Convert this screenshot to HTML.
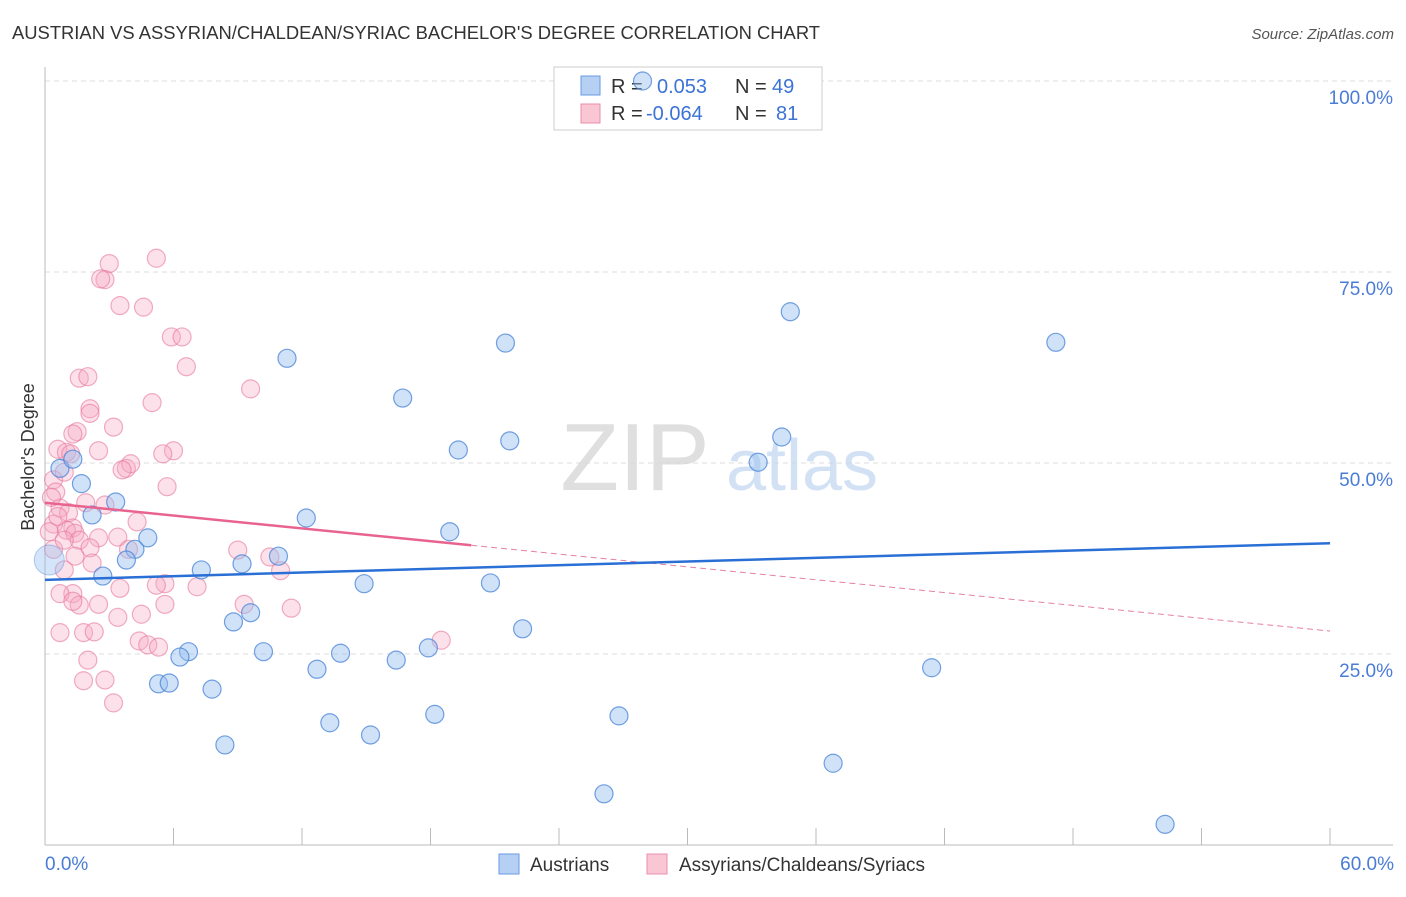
<!DOCTYPE html>
<html><head><meta charset="utf-8">
<style>
body{margin:0;background:#fff;font-family:"Liberation Sans",sans-serif;}
svg text{font-family:"Liberation Sans",sans-serif;}
</style></head>
<body>
<svg id="chart" width="1406" height="892">
<text x="12" y="39" font-size="18.4" fill="#333" textLength="808">AUSTRIAN VS ASSYRIAN/CHALDEAN/SYRIAC BACHELOR'S DEGREE CORRELATION CHART</text>
<text x="1394" y="39" font-size="15" fill="#555" text-anchor="end" font-style="italic">Source: ZipAtlas.com</text>
<g id="grid"></g>
<g>
<text x="635" y="490" font-size="96" fill="#d8d8d8" font-family="Liberation Serif" text-anchor="middle" opacity="0.8">ZIP</text>
<text x="802" y="490" font-size="72" fill="#c8daf2" text-anchor="middle" opacity="0.8">atlas</text>
</g>
<text transform="translate(34,457) rotate(-90)" font-size="18" fill="#333" text-anchor="middle">Bachelor's Degree</text>
<g>
<rect x="554" y="67" width="268" height="63" fill="#fff" stroke="#ccc"/>
<rect x="581" y="76" width="19" height="19" fill="#b6d0f3" stroke="#6a9ae0"/>
<rect x="581" y="104" width="19" height="19" fill="#f9c6d4" stroke="#ea8fad"/>
<text x="611" y="93" font-size="20" fill="#333">R = </text><text x="657" y="93" font-size="20" fill="#3b73d6">0.053</text>
<text x="735" y="93" font-size="20" fill="#333">N = </text><text x="772" y="93" font-size="20" fill="#3b73d6">49</text>
<text x="611" y="120" font-size="20" fill="#333">R = </text><text x="646" y="120" font-size="20" fill="#3b73d6">-0.064</text>
<text x="735" y="120" font-size="20" fill="#333">N = </text><text x="776" y="120" font-size="20" fill="#3b73d6">81</text>
</g>
<g>
<rect x="499" y="854" width="20" height="20" fill="#b6d0f3" stroke="#6a9ae0"/>
<text x="530" y="871" font-size="19" fill="#333">Austrians</text>
<rect x="647" y="854" width="20" height="20" fill="#f9c6d4" stroke="#ea8fad"/>
<text x="679" y="871" font-size="19" fill="#333">Assyrians/Chaldeans/Syriacs</text>
</g>
<g id="marks"></g>
</svg>
<script>
const xTicks=[0,6,12,18,24,30,36,42,48,54,60];
const yTicks=[25,50,75,100];
const yTickLabels=["25.0%","50.0%","75.0%","100.0%"];
const xLabels=["0.0%","60.0%"];
const blueX=[27.9,34.8,47.2,11.3,21.5,16.7,19.3,21.7,34.4,33.3,0.7,1.3,1.7,3.3,2.2,4.8,4.2,3.8,2.7,12.2,18.9,10.9,9.2,7.3,14.9,20.8,9.6,8.8,22.3,10.2,6.7,6.3,13.8,12.7,16.4,17.9,41.4,5.3,5.8,7.8,13.3,18.2,26.8,15.2,8.4,36.8,26.1,52.3];
const blueY=[100,69.8,65.8,63.7,65.7,58.5,51.7,52.9,53.4,50.1,49.3,50.5,47.3,44.9,43.2,40.2,38.7,37.3,35.2,42.8,41.0,37.8,36.8,36.0,34.2,34.3,30.4,29.2,28.3,25.3,25.3,24.6,25.1,23.0,24.2,25.8,23.2,21.1,21.2,20.4,16.0,17.1,16.9,14.4,13.1,10.7,6.7,2.7];
const pinkX=[3.0,5.2,2.8,2.6,3.5,4.6,5.9,6.4,6.6,1.6,2.0,9.6,5.0,2.1,2.1,3.2,1.5,1.3,6.0,5.5,2.5,0.6,1.0,1.2,3.8,4.0,3.6,5.7,0.4,0.5,0.9,1.9,2.8,0.7,1.1,4.3,0.4,0.2,1.3,1.0,1.4,1.6,3.4,2.5,2.1,0.4,0.9,1.4,0.9,2.2,3.9,9.0,10.5,11.0,7.1,5.6,5.2,3.5,1.3,0.7,1.6,1.3,2.5,4.5,5.6,9.3,11.5,3.4,4.4,0.7,1.8,2.3,4.8,5.3,18.5,2.0,1.8,2.8,3.2,0.3,0.6];
const pinkY=[76.1,76.8,74.0,74.1,70.6,70.4,66.5,66.5,62.6,61.1,61.3,59.7,57.9,57.1,56.5,54.7,54.1,53.8,51.6,51.2,51.6,51.8,51.4,51.2,49.3,49.9,49.1,46.9,47.8,46.2,48.8,44.8,44.5,44.1,43.5,42.3,42.0,41.0,41.5,41.2,40.8,39.9,40.3,40.2,38.9,38.7,39.9,37.8,36.0,36.9,38.7,38.6,37.7,35.9,33.8,34.2,34.0,33.6,32.9,32.9,31.4,31.9,31.5,30.2,31.5,31.5,31.0,29.8,26.7,27.8,27.8,27.9,26.2,25.9,26.8,24.2,21.5,21.6,18.6,45.5,43.0];
const blueTrend=[34.7,39.5];
const pinkTrend=[44.8,28.0];
const pinkSolidEnd=19.9;

const X=v=>45+v/60*1285;
const Y=v=>845-v/100*764;
const NS="http://www.w3.org/2000/svg";
function mk(tag,attrs,parent){const e=document.createElementNS(NS,tag);for(const k in attrs)e.setAttribute(k,attrs[k]);parent.appendChild(e);return e;}
const grid=document.getElementById('grid');
const marks=document.getElementById('marks');
yTicks.forEach((t,i)=>{
  const l=mk('line',{x1:45,x2:1393,y1:Y(t),y2:Y(t),stroke:'#dcdcdc','stroke-dasharray':'5,4'},grid);
  
  
  const tx=mk('text',{x:1393,y:Y(t)+23,'font-size':19,fill:'#4a7cd6','text-anchor':'end'},grid);
  tx.textContent=yTickLabels[i];
  
  
});
const ya=mk('line',{x1:45,x2:45,y1:67,y2:845,stroke:'#bbb'},grid);


const xa=mk('line',{x1:45,x2:1393,y1:845,y2:845,stroke:'#bbb'},grid);


xTicks.forEach(t=>{
  const l=mk('line',{x1:X(t),x2:X(t),y1:828,y2:845,stroke:'#bbb'},grid);
  
  
});
const xl0=mk('text',{x:45,y:870,'font-size':19,fill:'#4a7cd6'},grid);xl0.textContent=xLabels[0];


const xl1=mk('text',{x:1394,y:870,'font-size':19,fill:'#4a7cd6','text-anchor':'end'},grid);xl1.textContent=xLabels[1];



pinkX.forEach((v,i)=>{
  const c=mk('circle',{cx:X(v),cy:Y(pinkY[i]),r:9,fill:'rgba(247,170,194,0.35)',stroke:'rgba(232,120,155,0.6)','stroke-width':1.2},marks);
  
  
});
blueX.forEach((v,i)=>{
  const c=mk('circle',{cx:X(v),cy:Y(blueY[i]),r:9,fill:'rgba(150,190,240,0.45)',stroke:'rgba(70,130,215,0.75)','stroke-width':1.2},marks);
  
  
});
const big=mk('circle',{cx:X(0.2),cy:Y(37.3),r:15,fill:'rgba(150,190,240,0.4)',stroke:'rgba(70,130,215,0.4)'},marks);


const pAt=x=>pinkTrend[0]+(pinkTrend[1]-pinkTrend[0])*x/60;
const pd=mk('line',{x1:X(pinkSolidEnd),y1:Y(pAt(pinkSolidEnd)),x2:X(60),y2:Y(pinkTrend[1]),stroke:'#e87fa0','stroke-width':1,'stroke-dasharray':'6,4'},marks);


const ps=mk('line',{x1:X(0),y1:Y(pinkTrend[0]),x2:X(pinkSolidEnd),y2:Y(pAt(pinkSolidEnd)),stroke:'#e8648f','stroke-width':2.5},marks);


const bl=mk('line',{x1:X(0),y1:Y(blueTrend[0]),x2:X(60),y2:Y(blueTrend[1]),stroke:'#2a6fd6','stroke-width':2.5},marks);


</script>
</body></html>
